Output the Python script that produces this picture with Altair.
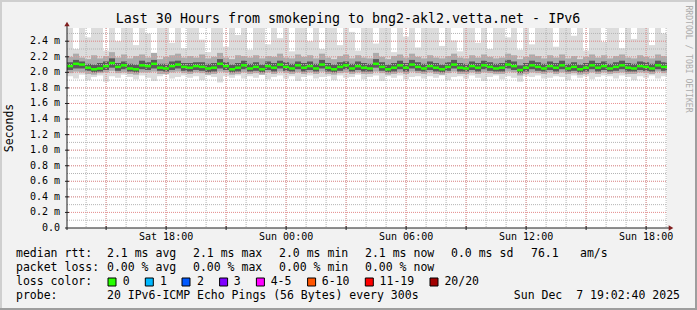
import altair as alt
import pandas as pd

# ---------------- data (ms) ----------------
med = [2.08, 2.11, 2.10, 2.06, 2.04, 2.05, 2.08, 2.12, 2.07, 2.09,
       2.05, 2.04, 2.09, 2.08, 2.11, 2.06, 2.05, 2.08, 2.10, 2.07,
       2.06, 2.08, 2.07, 2.05, 2.06, 2.11, 2.08, 2.04, 2.06, 2.09,
       2.05, 2.07, 2.04, 2.08, 2.06, 2.10, 2.07, 2.05, 2.09, 2.06,
       2.08, 2.05, 2.10, 2.06, 2.04, 2.07, 2.09, 2.05, 2.08, 2.06,
       2.05, 2.11, 2.07, 2.04, 2.06, 2.09, 2.06, 2.10, 2.07, 2.05,
       2.08, 2.06, 2.04, 2.07, 2.10, 2.06, 2.05, 2.08, 2.06, 2.09,
       2.07, 2.05, 2.06, 2.10, 2.08, 2.03, 2.06, 2.09, 2.07, 2.05,
       2.08, 2.06, 2.09, 2.05, 2.07, 2.04, 2.06, 2.09, 2.06, 2.08,
       2.05, 2.07, 2.09, 2.06, 2.05, 2.08, 2.07, 2.05, 2.09, 2.07]
hi = [2.57, 2.30, 2.57, 2.45, 2.57, 2.57, 2.28, 2.57, 2.40, 2.57,
      2.57, 2.35, 2.57, 2.50, 2.25, 2.57, 2.57, 2.38, 2.57, 2.31,
      2.57, 2.57, 2.42, 2.26, 2.57, 2.57, 2.33, 2.57, 2.48, 2.57,
      2.29, 2.57, 2.57, 2.36, 2.57, 2.44, 2.57, 2.27, 2.57, 2.57,
      2.40, 2.57, 2.30, 2.57, 2.57, 2.35, 2.57, 2.52, 2.28, 2.57,
      2.57, 2.37, 2.57, 2.57, 2.26, 2.57, 2.46, 2.57, 2.32, 2.57,
      2.57, 2.57, 2.34, 2.57, 2.41, 2.27, 2.57, 2.57, 2.38, 2.57,
      2.30, 2.57, 2.57, 2.45, 2.57, 2.29, 2.57, 2.36, 2.57, 2.57,
      2.57, 2.33, 2.57, 2.57, 2.47, 2.57, 2.28, 2.57, 2.57, 2.39,
      2.57, 2.57, 2.31, 2.57, 2.43, 2.57, 2.57, 2.35, 2.57, 2.50]
lo = [1.95, 1.92, 1.97, 1.90, 1.94, 1.96, 1.88, 1.95, 1.93, 1.97,
      1.94, 1.91, 1.96, 1.93, 1.89, 1.95, 1.97, 1.92, 1.94, 1.96,
      1.93, 1.95, 1.90, 1.96, 1.94, 1.87, 1.95, 1.93, 1.96, 1.92,
      1.95, 1.93, 1.97, 1.91, 1.94, 1.96, 1.92, 1.95, 1.89, 1.94,
      1.96, 1.92, 1.94, 1.95, 1.90, 1.96, 1.93, 1.94, 1.97, 1.91,
      1.94, 1.96, 1.89, 1.95, 1.93, 1.96, 1.91, 1.94, 1.95, 1.92,
      1.95, 1.93, 1.96, 1.90, 1.94, 1.95, 1.92, 1.96, 1.93, 1.89,
      1.94, 1.96, 1.91, 1.95, 1.93, 1.88, 1.95, 1.94, 1.96, 1.92,
      1.93, 1.95, 1.94, 1.90, 1.96, 1.93, 1.95, 1.91, 1.94, 1.96,
      1.95, 1.92, 1.96, 1.94, 1.90, 1.95, 1.93, 1.96, 1.92, 1.95]
p_hi = [2.20, 2.24, 2.19, 2.17, 2.22, 2.18, 2.21, 2.26, 2.19, 2.23,
        2.18, 2.21, 2.23, 2.19, 2.25, 2.17, 2.20, 2.22, 2.24, 2.19,
        2.21, 2.19, 2.23, 2.18, 2.20, 2.25, 2.19, 2.17, 2.22, 2.21,
        2.19, 2.22, 2.18, 2.21, 2.20, 2.24, 2.19, 2.18, 2.23, 2.20,
        2.22, 2.18, 2.24, 2.19, 2.17, 2.21, 2.23, 2.18, 2.22, 2.19,
        2.18, 2.25, 2.20, 2.17, 2.21, 2.23, 2.19, 2.24, 2.20, 2.18,
        2.22, 2.19, 2.18, 2.21, 2.24, 2.19, 2.18, 2.22, 2.19, 2.23,
        2.20, 2.18, 2.19, 2.24, 2.22, 2.17, 2.20, 2.23, 2.21, 2.18,
        2.22, 2.19, 2.23, 2.18, 2.21, 2.17, 2.20, 2.23, 2.19, 2.22,
        2.18, 2.21, 2.23, 2.19, 2.18, 2.22, 2.20, 2.18, 2.23, 2.21]
p_lo = [1.99, 2.01, 2.00, 1.98, 1.97, 1.99, 2.00, 2.02, 1.99, 2.00,
        1.98, 1.97, 2.00, 2.00, 2.01, 1.98, 1.98, 2.00, 2.01, 1.99,
        1.98, 2.00, 1.99, 1.97, 1.98, 2.01, 2.00, 1.97, 1.98, 2.00,
        1.98, 1.99, 1.97, 2.00, 1.98, 2.01, 1.99, 1.98, 2.00, 1.98,
        2.00, 1.98, 2.01, 1.98, 1.97, 1.99, 2.00, 1.98, 2.00, 1.98,
        1.98, 2.01, 1.99, 1.97, 1.98, 2.00, 1.98, 2.01, 1.99, 1.98,
        2.00, 1.98, 1.97, 1.99, 2.01, 1.98, 1.98, 2.00, 1.98, 2.00,
        1.99, 1.98, 1.98, 2.01, 2.00, 1.96, 1.98, 2.00, 1.99, 1.98,
        2.00, 1.98, 2.00, 1.98, 1.99, 1.97, 1.98, 2.00, 1.98, 2.00,
        1.98, 1.99, 2.00, 1.98, 1.98, 2.00, 1.99, 1.98, 2.01, 1.99]
c_hi = [2.13, 2.16, 2.14, 2.11, 2.10, 2.12, 2.14, 2.18, 2.12, 2.14,
        2.11, 2.10, 2.15, 2.13, 2.16, 2.11, 2.11, 2.14, 2.15, 2.12,
        2.12, 2.13, 2.13, 2.11, 2.12, 2.17, 2.13, 2.10, 2.12, 2.15,
        2.11, 2.13, 2.10, 2.14, 2.12, 2.15, 2.13, 2.11, 2.14, 2.12,
        2.14, 2.11, 2.16, 2.12, 2.10, 2.13, 2.14, 2.11, 2.14, 2.12,
        2.11, 2.17, 2.13, 2.10, 2.12, 2.15, 2.12, 2.16, 2.13, 2.11,
        2.14, 2.12, 2.10, 2.13, 2.16, 2.12, 2.11, 2.14, 2.12, 2.15,
        2.13, 2.11, 2.12, 2.16, 2.14, 2.09, 2.12, 2.15, 2.13, 2.11,
        2.14, 2.12, 2.15, 2.11, 2.13, 2.10, 2.12, 2.15, 2.12, 2.14,
        2.11, 2.13, 2.15, 2.12, 2.11, 2.14, 2.13, 2.11, 2.15, 2.13]
c_lo = [2.03, 2.05, 2.05, 2.02, 2.00, 2.01, 2.03, 2.06, 2.02, 2.04,
        2.01, 2.00, 2.04, 2.03, 2.05, 2.02, 2.01, 2.03, 2.05, 2.02,
        2.01, 2.03, 2.02, 2.00, 2.01, 2.05, 2.03, 2.00, 2.01, 2.04,
        2.01, 2.02, 2.00, 2.03, 2.01, 2.05, 2.02, 2.01, 2.04, 2.01,
        2.03, 2.01, 2.05, 2.01, 2.00, 2.02, 2.04, 2.01, 2.03, 2.01,
        2.01, 2.06, 2.02, 2.00, 2.01, 2.04, 2.01, 2.05, 2.02, 2.01,
        2.03, 2.01, 2.00, 2.02, 2.05, 2.01, 2.01, 2.03, 2.01, 2.04,
        2.02, 2.01, 2.01, 2.05, 2.03, 1.99, 2.01, 2.04, 2.02, 2.01,
        2.03, 2.01, 2.04, 2.01, 2.02, 2.00, 2.01, 2.04, 2.01, 2.03,
        2.01, 2.02, 2.04, 2.01, 2.01, 2.03, 2.02, 2.01, 2.04, 2.02]

# time axis: hours since Sat 13:02:40 (30 hours shown)
SPAN_H = 30
START_OFFSET_H = 2 / 60 + 40 / 3600           # start is 13:02:40
START_HOUR = 13
xtick_labels = ["Sat 18:00", "Sun 00:00", "Sun 06:00", "Sun 12:00", "Sun 18:00"]
xtick_clock = [18, 24, 30, 36, 42]            # clock hours counted from Sat 00:00
ytick_values = [round(0.2 * k, 1) for k in range(13)]
ytick_labels = ["0.0\u00a0\u00a0"] + [f"{v:.1f} m" for v in ytick_values[1:]]
ygrid_minor = [round(0.1 * k, 1) for k in range(1, 26)]

title_text = "Last 30 Hours from smokeping to bng2-akl2.vetta.net - IPv6"
ytitle_text = "Seconds"
watermark_text = "RRDTOOL / TOBI OETIKER"
row_median = ["median rtt:", "2.1 ms avg", "2.1 ms max", "2.0 ms min", "2.1 ms now",
              "0.0 ms sd", "76.1", "am/s"]
row_loss = ["packet loss:", "0.00 % avg", "0.00 % max", "0.00 % min", "0.00 % now"]
loss_title = "loss color:"
loss_labels = ["0", "1", "2", "3", "4-5", "6-10", "11-19", "20/20"]
loss_colors = ["#26ff00", "#00b8ff", "#0059ff", "#7e00ff", "#ff00ff", "#ff5500", "#ff0000", "#a10000"]
row_probe = ["probe:", "20 IPv6-ICMP Echo Pings (56 Bytes) every 300s"]
timestamp_text = "Sun Dec\u00a0\u00a07 19:02:40 2025"

# ---------------- layout ----------------
W, H = 600, 200
PL, PT = 67, 28           # plot origin inside the 697x310 canvas
FONT = "DejaVu Sans Mono"
col_x_abs = [16, 107, 193, 279, 365, 451, 531, 580]
row_y_abs = [254, 268, 282, 296]
box_x_abs = [108, 145.3, 182, 219.6, 256.4, 307.6, 365.3, 430]
lab_x_abs = [122.7, 160, 197, 233.8, 270.7, 321.8, 379.6, 444.4]

N = len(med)
bw = SPAN_H / N
smoke = pd.DataFrame({
    "t0": [i * bw for i in range(N)], "t1": [(i + 1) * bw for i in range(N)],
    "med": med, "hi": hi, "lo": lo, "phi": p_hi, "plo": p_lo, "chi": c_hi, "clo": c_lo,
})

hour_marks = [k - START_OFFSET_H for k in range(1, SPAN_H + 1)]
minor_x = pd.DataFrame({"h": hour_marks})
major_x = pd.DataFrame({"h": [h for k, h in zip(range(1, SPAN_H + 1), hour_marks)
                               if (START_HOUR + k) % 3 == 0]})
xlab = pd.DataFrame({"h": [c - START_HOUR - START_OFFSET_H for c in xtick_clock],
                     "t": xtick_labels})
ylab = pd.DataFrame({"v": ytick_values, "t": ytick_labels})
minor_y = pd.DataFrame({"v": ygrid_minor})
major_y = pd.DataFrame({"v": ytick_values[1:]})

xs = alt.Scale(domain=[0, SPAN_H], nice=False, zero=False)
ys = alt.Scale(domain=[0, 2.57], nice=False)
X = lambda f: alt.X(f, scale=xs, axis=None)
Y = lambda f: alt.Y(f, scale=ys, axis=None)

outer = alt.Chart(smoke).mark_bar(color="#dcdcdc").encode(
    x=X("t0:Q"), x2="t1", y=Y("lo:Q"), y2="hi")
mid = alt.Chart(smoke).mark_bar(color="#ababab").encode(
    x=X("t0:Q"), x2="t1", y=Y("plo:Q"), y2="phi")
core = alt.Chart(smoke).mark_bar(color="#5a5a5a").encode(
    x=X("t0:Q"), x2="t1", y=Y("clo:Q"), y2="chi")

grid_gray = "#b4b4b4"
grid_red = "#eb9595"
gx_minor = alt.Chart(minor_x).mark_rule(color=grid_gray, strokeDash=[1, 1], strokeWidth=1).encode(
    x=X("h:Q"), y=alt.value(0), y2=alt.value(H))
gy_minor = alt.Chart(minor_y).mark_rule(color=grid_gray, strokeDash=[1, 1], strokeWidth=1).encode(
    y=Y("v:Q"), x=alt.value(0), x2=alt.value(W))
gx_major = alt.Chart(major_x).mark_rule(color=grid_red, strokeDash=[1, 1], strokeWidth=1).encode(
    x=X("h:Q"), y=alt.value(0), y2=alt.value(H))
gy_major = alt.Chart(major_y).mark_rule(color=grid_red, strokeDash=[1, 1], strokeWidth=1).encode(
    y=Y("v:Q"), x=alt.value(0), x2=alt.value(W))
tx = alt.Chart(major_x).mark_rule(color="#1f1f1f").encode(
    x=X("h:Q"), y=alt.value(H - 2), y2=alt.value(H + 2))
ty = alt.Chart(major_y).mark_rule(color="#1f1f1f").encode(
    y=Y("v:Q"), x=alt.value(-2), x2=alt.value(2))

# tick labels, placed through the scales
xlab_l = alt.Chart(xlab).mark_text(font=FONT, fontSize=10, align="center", baseline="middle",
                                   color="#000000").encode(
    x=X("h:Q"), y=alt.value(209), text="t:N")
ylab_l = alt.Chart(ylab).mark_text(font=FONT, fontSize=10, align="right", baseline="middle",
                                   color="#000000").encode(
    y=Y("v:Q"), x=alt.value(-7), text="t:N")

median_line = alt.Chart(smoke).mark_rule(color=loss_colors[0], strokeWidth=2.5).encode(
    x=X("t0:Q"), x2="t1", y=Y("med:Q"))

one = pd.DataFrame({"a": [0]})
xaxis_line = alt.Chart(one).mark_rule(color="#1f1f1f").encode(
    x=alt.value(-2), x2=alt.value(W + 3), y=alt.value(H))
yaxis_line = alt.Chart(one).mark_rule(color="#1f1f1f").encode(
    y=alt.value(H + 2), y2=alt.value(-3), x=alt.value(0))
arrow_x = alt.Chart(one).mark_point(shape="triangle-right", filled=True, color="#801f1f",
                                    size=28, opacity=1).encode(x=alt.value(W + 4), y=alt.value(H))
arrow_y = alt.Chart(one).mark_point(shape="triangle-up", filled=True, color="#801f1f",
                                    size=28, opacity=1).encode(x=alt.value(0), y=alt.value(-4))


def rect(x0, x1, y0, y1, fill, stroke=None):
    kw = {"color": fill}
    if stroke:
        kw.update(stroke=stroke, strokeWidth=1)
    return alt.Chart(one).mark_rect(**kw).encode(
        x=alt.value(x0), x2=alt.value(x1), y=alt.value(y0), y2=alt.value(y1))


def txt(text, x_abs, y_abs, size=11.5, align="left", angle=0, color="#000000"):
    return alt.Chart(one).mark_text(text=text, font=FONT, fontSize=size, align=align,
                                    baseline="middle", angle=angle, color=color).encode(
        x=alt.value(x_abs - PL), y=alt.value(y_abs - PT))


# frame shading (rrdtool shade A / shade B)
frame = [
    rect(-PL, 697 - PL, -PT, -PT + 2, "#cfcfcf"),
    rect(-PL, -PL + 2, -PT, 310 - PT, "#cfcfcf"),
    rect(-PL, 697 - PL, 310 - PT - 2, 310 - PT, "#9e9e9e"),
    rect(697 - PL - 2, 697 - PL, -PT, 310 - PT, "#9e9e9e"),
]

texts = [txt(title_text, 348, 19, size=13.3, align="center"),
         txt(ytitle_text, 10, 128, angle=270, align="center"),
         txt(watermark_text, 688, 59, size=8.1, angle=90, align="center", color="#acacac")]
for r, row in enumerate([row_median, row_loss]):
    for c, s in enumerate(row):
        texts.append(txt(s, col_x_abs[c], row_y_abs[r]))
texts.append(txt(loss_title, col_x_abs[0], row_y_abs[2]))
for s, lx in zip(loss_labels, lab_x_abs):
    texts.append(txt(s, lx, row_y_abs[2]))
for c, s in enumerate(row_probe):
    texts.append(txt(s, col_x_abs[c], row_y_abs[3]))
texts.append(txt(timestamp_text, 680, row_y_abs[3], align="right"))

boxes = [rect(bx - PL, bx - PL + 8, row_y_abs[2] - PT - 4, row_y_abs[2] - PT + 4, col, "#000000")
         for bx, col in zip(box_x_abs, loss_colors)]

chart = alt.layer(
    outer, mid, core, gx_minor, gy_minor, gx_major, gy_major, median_line,
    xaxis_line, yaxis_line, tx, ty, arrow_x, arrow_y, xlab_l, ylab_l, *frame, *boxes, *texts
).properties(
    width=W, height=H,
    autosize=alt.AutoSizeParams(type="none"),
    padding={"left": PL, "top": PT, "right": 697 - PL - W, "bottom": 310 - PT - H},
).configure(background="#f2f2f2").configure_view(fill="#ffffff", strokeWidth=0)

chart.save("out.html", embed_options={"renderer": "svg", "actions": False})
